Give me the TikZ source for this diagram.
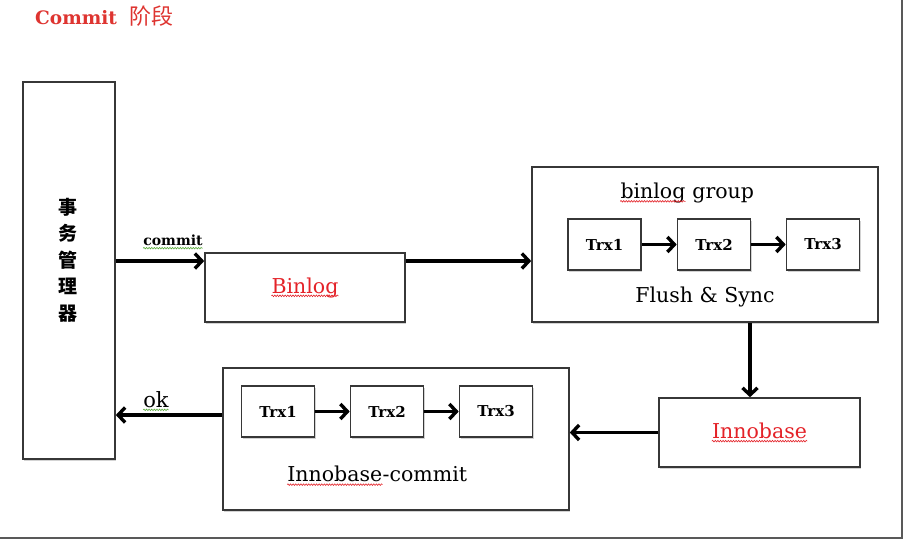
\documentclass[tikz,border=0pt]{standalone}
\usepackage{fontspec}
\setmainfont{DejaVu Serif}
\newfontfamily\cjk{Noto Sans CJK SC}
\usepackage{xcolor}
\usetikzlibrary{shadows}
\usetikzlibrary{arrows.meta}
\usetikzlibrary{decorations.pathmorphing}
\definecolor{titlered}{RGB}{222,52,48}
\definecolor{wordred}{RGB}{228,34,40}
\definecolor{boxline}{RGB}{55,55,55}
\definecolor{squiggreen}{RGB}{90,170,60}
% spell-check style wavy underline
\newcommand{\squig}[2]{\tikz[baseline=(w.base)]{\node[inner sep=0pt] (w) {#2};
  \draw[#1,line width=.6pt,decorate,decoration={snake,amplitude=.8pt,segment length=2.6pt}]
    ([yshift=-2.8pt]w.base west) -- ([yshift=-2.8pt]w.base east);}}

\begin{document}
\begin{tikzpicture}[x=1pt,y=-1pt,
  box/.style={draw=boxline,line width=1.6pt,fill=white,inner sep=0pt,
    drop shadow={shadow xshift=1.2pt,shadow yshift=-1.6pt,opacity=.35}},
  trx/.style={box,minimum width=73pt,minimum height=51pt,
    font=\fontsize{15}{17}\selectfont\bfseries},
  flow/.style={-{Straight Barb[length=7pt,width=15pt]},line width=3.4pt,black},
  lab/.style={inner sep=0pt,font=\fontsize{20.5}{23}\selectfont}]
  \useasboundingbox (0,0) rectangle (903,539);
  % frame
  \draw[line width=2pt,black!65] (0,538) -- (902,538) -- (902,0);
  \node[inner sep=0pt,anchor=west,text=titlered] (title) at (35,16)
    {\fontsize{18.5}{20}\selectfont\bfseries Commit\ \ {\cjk\mdseries\fontsize{22}{24}\selectfont 阶段}};

  % transaction manager
  \node[box,minimum width=92pt,minimum height=377pt] (mgr) at (69,270.5) {};
  \node[inner sep=0pt,align=center,font=\cjk\bfseries\fontsize{19}{26.5}\selectfont] (mgrtxt) at (68,260)
    {事\\务\\管\\理\\器};

  % binlog
  \node[box,minimum width=200pt,minimum height=69pt] (bin) at (305,287.5) {};
  \node[lab,text=wordred] (binlab) at (bin) {\squig{wordred}{Binlog}};
  \node[box,minimum width=346pt,minimum height=155pt] (grp) at (705,244.5) {};
  \node[lab] (grplab) at (687,193) {\squig{wordred}{binlog} group};
  \node[lab] (flushlab) at (705,297) {Flush \& Sync};
  \node[trx] (gtrx1) at (604.5,244.5) {Trx1};
  \node[trx] (gtrx2) at (714,244.5) {Trx2};
  \node[trx] (gtrx3) at (823,244.5) {Trx3};

  % innobase
  \node[box,minimum width=201pt,minimum height=69pt] (inno) at (759.5,432.5) {};
  \node[lab,text=wordred] (innolab) at (inno) {\squig{wordred}{Innobase}};
  \node[box,minimum width=346pt,minimum height=142pt] (icom) at (396,439) {};
  \node[lab] (icomlab) at (377,476) {\squig{wordred}{Innobase}-commit};
  \node[trx] (ctrx1) at (278,411.5) {Trx1};
  \node[trx] (ctrx2) at (387,411.5) {Trx2};
  \node[trx] (ctrx3) at (496,411.5) {Trx3};

  % arrows
  \coordinate (toprow) at (0,261);
  \coordinate (okrow) at (0,415);
  \coordinate (downcol) at (750,0);
  \draw[flow] (mgr.east |- toprow) -- (bin.west |- toprow);
  \node[inner sep=0pt,font=\fontsize{14}{16}\selectfont\bfseries] (commitlab) at (173,242)
    {\squig{squiggreen}{commit}};
  \draw[flow] (bin.east |- toprow) -- (grp.west |- toprow);
  \draw[flow] (gtrx1) -- (gtrx2);
  \draw[flow] (gtrx2) -- (gtrx3);
  \draw[flow] (grp.south -| downcol) -- (inno.north -| downcol);
  \draw[flow] (inno.west) -- (icom.east |- inno.west);
  \draw[flow] (ctrx1) -- (ctrx2);
  \draw[flow] (ctrx2) -- (ctrx3);
  \draw[flow] (icom.west |- okrow) -- (mgr.east |- okrow);
  \node[lab,font=\fontsize{21}{24}\selectfont] (oklab) at (156,401) {\squig{squiggreen}{ok}};
\end{tikzpicture}
\end{document}
